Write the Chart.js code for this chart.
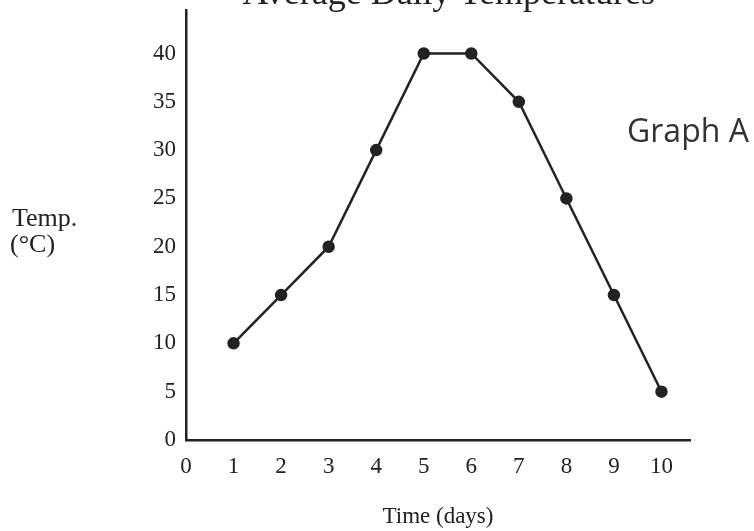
<!DOCTYPE html>
<html>
<head>
<meta charset="utf-8">
<script src="https://cdn.jsdelivr.net/npm/chart.js@4.4.0/dist/chart.umd.min.js"></script>
<style>
    html, body { margin: 0; padding: 0; background: #fff; }
    #wrap { width: 754px; height: 531px; position: relative; }
</style>
</head>
<body>
<div id="wrap"><canvas id="tempChart" width="754" height="531"></canvas></div>
<script>
const days = [1, 2, 3, 4, 5, 6, 7, 8, 9, 10];
const temps = [10, 15, 20, 30, 40, 40, 35, 25, 15, 5];
const xTicks = [0, 1, 2, 3, 4, 5, 6, 7, 8, 9, 10];
const yTicks = [0, 5, 10, 15, 20, 25, 30, 35, 40];

const ink = '#222';
const serif = '"Liberation Serif", "DejaVu Serif", serif';

const extraText = {
    id: 'extraText',
    afterDraw(chart) {
        const ctx = chart.ctx;
        ctx.save();
        ctx.fillStyle = ink;
        ctx.font = '36px ' + serif;
        ctx.textAlign = 'right';
        ctx.textBaseline = 'alphabetic';
        ctx.fillText('Average Daily Temperatures', 655, 4);

        ctx.font = '26px ' + serif;
        ctx.textAlign = 'left';
        ctx.fillText('Temp.', 12, 226);
        ctx.fillText('(°C)', 10, 252);

        ctx.fillStyle = '#333';
        ctx.font = '32px "Open Sans", "Liberation Sans", sans-serif';
        ctx.fillText('Graph A', 627, 142);
        ctx.restore();
    }
};

new Chart(document.getElementById('tempChart'), {
    type: 'line',
    data: {
        datasets: [{
            data: days.map((d, i) => ({ x: d, y: temps[i] })),
            borderColor: ink,
            borderWidth: 2.5,
            pointBackgroundColor: ink,
            pointBorderColor: ink,
            pointRadius: 5,
            tension: 0,
        }],
    },
    options: {
        responsive: false,
        animation: false,
        devicePixelRatio: 1,
        layout: { padding: { top: 10, right: 64, left: 0, bottom: 0 } },
        plugins: { legend: { display: false }, tooltip: { enabled: false } },
        scales: {
            x: {
                type: 'linear',
                min: 0,
                max: 10.6,
                afterBuildTicks: (scale) => { scale.ticks = xTicks.map((v) => ({ value: v })); },
                afterFit: (scale) => { scale.height = 91; },
                grid: { display: false, drawTicks: false },
                border: { display: true, color: ink, width: 2.5 },
                ticks: { color: ink, padding: 13, autoSkip: false, font: { family: serif, size: 23 }, maxRotation: 0 },
                title: {
                    display: true,
                    text: 'Time (days)',
                    color: ink,
                    font: { family: serif, size: 23 },
                    padding: { top: 0, bottom: 0 },
                },
            },
            y: {
                min: 0,
                max: 44.5,
                afterBuildTicks: (scale) => { scale.ticks = yTicks.map((v) => ({ value: v })); },
                afterFit: (scale) => {
                    scale.width = 186;
                    scale.paddingTop = 0;
                },
                grid: { display: false, drawTicks: false },
                border: { display: true, color: ink, width: 2.5 },
                ticks: { color: ink, padding: 10, autoSkip: false, font: { family: serif, size: 23 } },
            },
        },
    },
    plugins: [extraText],
});
</script>
</body>
</html>
